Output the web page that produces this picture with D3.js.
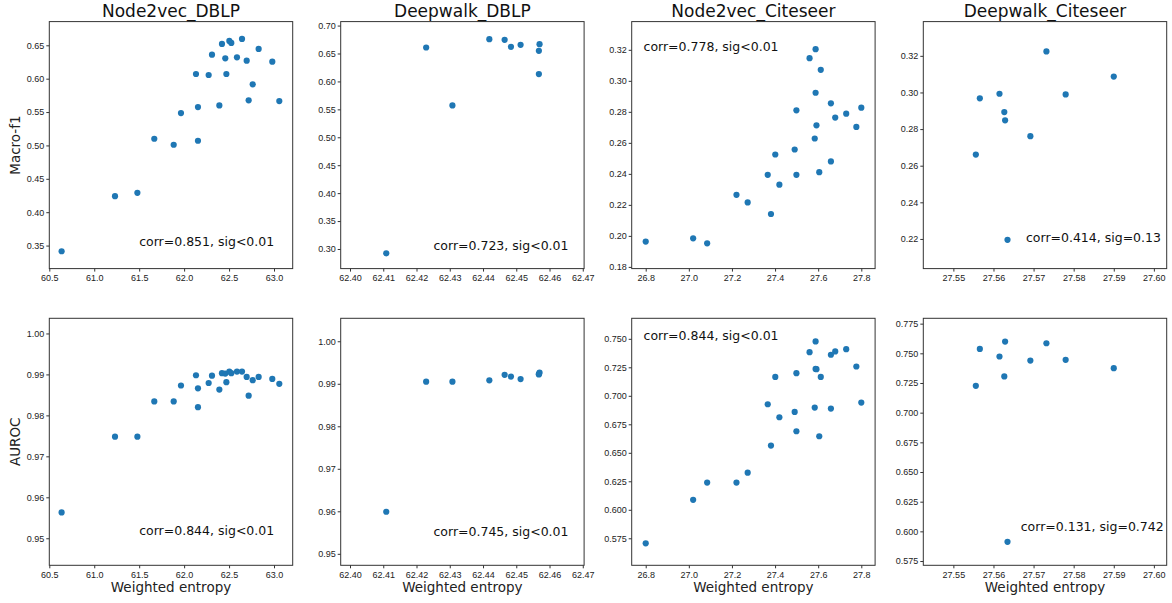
<!DOCTYPE html>
<html>
<head>
<meta charset="utf-8">
<script src="https://cdn.jsdelivr.net/npm/d3@7"></script>
<style>
  body { margin: 0; background: #fff; }
  svg { display: block; font-family: "DejaVu Sans", sans-serif; }
  .tick text { font-size: 9px; fill: #222; }
  .tick line { stroke: #333; }
  .title { font-size: 17px; fill: #111; }
  .axis-label { font-size: 13.5px; fill: #222; }
  .note { font-size: 12.5px; fill: #111; }
</style>
</head>
<body>
<svg id="chart" width="1172" height="603"></svg>
<script>
/* ── data ────────────────────────────────────────────────────────────────── */

const n2vDblpEntropy = [60.637, 61.231, 61.48, 61.668, 61.884, 61.965, 62.132, 62.154, 62.154,
  62.273, 62.31, 62.392, 62.421, 62.458, 62.47, 62.503, 62.525, 62.588, 62.644, 62.696, 62.718,
  62.763, 62.829, 62.981, 63.059];
const n2vDblpMacroF1 = [0.3415, 0.424, 0.429, 0.51, 0.501, 0.5485, 0.607, 0.5575, 0.507, 0.6055,
  0.636, 0.56, 0.652, 0.6305, 0.607, 0.6565, 0.6535, 0.632, 0.6595, 0.627, 0.5675, 0.5915, 0.6445,
  0.6255, 0.5665];
const n2vDblpAuroc = [0.9563, 0.9748, 0.9748, 0.9834, 0.9834, 0.9873, 0.9898, 0.9866, 0.982,
  0.9879, 0.9897, 0.9863, 0.9903, 0.9902, 0.9881, 0.9907, 0.9903, 0.9907, 0.9907, 0.9894, 0.9848,
  0.9886, 0.9894, 0.9889, 0.9877];

const dwDblpEntropy = [62.4109, 62.4229, 62.4308, 62.4419, 62.4465, 62.4484, 62.4513, 62.4568,
  62.457, 62.4568];
const dwDblpMacroF1 = [0.2923, 0.6607, 0.5571, 0.6756, 0.6744, 0.6619, 0.6655, 0.6548, 0.6667, 0.6131];
const dwDblpAuroc = [0.9599, 0.9905, 0.9905, 0.9908, 0.9921, 0.9917, 0.9911, 0.9923, 0.9926, 0.9922];

const n2vCiteEntropy = [26.8, 27.02, 27.085, 27.221, 27.273, 27.366, 27.381, 27.401, 27.42, 27.491,
  27.499, 27.499, 27.56, 27.584, 27.588, 27.588, 27.592, 27.605, 27.612, 27.659, 27.659, 27.679,
  27.73, 27.777, 27.8];
const n2vCiteMacroF1 = [0.1963, 0.1984, 0.1952, 0.2265, 0.2216, 0.2394, 0.2141, 0.2525, 0.233,
  0.2557, 0.2394, 0.281, 0.3146, 0.2628, 0.3204, 0.2923, 0.2713, 0.2411, 0.3071, 0.2855, 0.248,
  0.2763, 0.2788, 0.2703, 0.2827];
const n2vCiteAuroc = [0.5706, 0.6087, 0.6239, 0.6239, 0.6326, 0.6926, 0.6563, 0.7166, 0.6812,
  0.6859, 0.7199, 0.6689, 0.7383, 0.6897, 0.7477, 0.7236, 0.7234, 0.6645, 0.7166, 0.6888, 0.736,
  0.7389, 0.7409, 0.7257, 0.6941];

const dwCiteEntropy = [27.5556, 27.5566, 27.5615, 27.5627, 27.5629, 27.5635, 27.5692, 27.5732,
  27.578, 27.59];
const dwCiteMacroF1 = [0.2661, 0.2968, 0.2993, 0.2893, 0.2848, 0.2195, 0.2761, 0.3224, 0.2989, 0.3087];
const dwCiteAuroc = [0.7226, 0.7537, 0.7473, 0.7305, 0.7599, 0.5912, 0.7439, 0.7585, 0.7445, 0.7375];

const titles = ["Node2vec_DBLP", "Deepwalk_DBLP", "Node2vec_Citeseer", "Deepwalk_Citeseer"];
const rowLabels = ["Macro-f1", "AUROC"];
const xLabel = "Weighted entropy";

const notes = [
  ["corr=0.851, sig<0.01", "corr=0.723, sig<0.01", "corr=0.778, sig<0.01", "corr=0.414, sig=0.13"],
  ["corr=0.844, sig<0.01", "corr=0.745, sig<0.01", "corr=0.844, sig<0.01", "corr=0.131, sig=0.742"],
];

// tick values
const xTicks = [
  [60.5, 61.0, 61.5, 62.0, 62.5, 63.0],
  [62.40, 62.41, 62.42, 62.43, 62.44, 62.45, 62.46, 62.47],
  [26.8, 27.0, 27.2, 27.4, 27.6, 27.8],
  [27.55, 27.56, 27.57, 27.58, 27.59, 27.60],
];
const yTicks = [
  [
    [0.35, 0.40, 0.45, 0.50, 0.55, 0.60, 0.65],
    [0.30, 0.35, 0.40, 0.45, 0.50, 0.55, 0.60, 0.65, 0.70],
    [0.18, 0.20, 0.22, 0.24, 0.26, 0.28, 0.30, 0.32],
    [0.22, 0.24, 0.26, 0.28, 0.30, 0.32],
  ],
  [
    [0.95, 0.96, 0.97, 0.98, 0.99, 1.00],
    [0.95, 0.96, 0.97, 0.98, 0.99, 1.00],
    [0.575, 0.600, 0.625, 0.650, 0.675, 0.700, 0.725, 0.750],
    [0.575, 0.600, 0.625, 0.650, 0.675, 0.700, 0.725, 0.750, 0.775],
  ],
];

/* ── panels ──────────────────────────────────────────────────────────────── */

const panels = [
  { row: 0, col: 0, x: n2vDblpEntropy, y: n2vDblpMacroF1, xd: [60.5, 63.208], yd: [0.3155, 0.6855],
    xf: ".1f", yf: ".2f", noteAt: [61.5, 0.35] },
  { row: 0, col: 1, x: dwDblpEntropy, y: dwDblpMacroF1, xd: [62.3972, 62.4704], yd: [0.2649, 0.7071],
    xf: ".2f", yf: ".2f", noteAt: [62.4251, 0.2988] },
  { row: 0, col: 2, x: n2vCiteEntropy, y: n2vCiteMacroF1, xd: [26.735, 27.864], yd: [0.1789, 0.3382],
    xf: ".1f", yf: ".2f", noteAt: [26.79, 0.3194] },
  { row: 0, col: 3, x: dwCiteEntropy, y: dwCiteMacroF1, xd: [27.5425, 27.6032], yd: [0.2038, 0.3387],
    xf: ".2f", yf: ".2f", noteAt: [27.5681, 0.2182] },
  { row: 1, col: 0, x: n2vDblpEntropy, y: n2vDblpAuroc, xd: [60.5, 63.208], yd: [0.9434, 1.0037],
    xf: ".1f", yf: ".2f", noteAt: [61.5, 0.9508] },
  { row: 1, col: 1, x: dwDblpEntropy, y: dwDblpAuroc, xd: [62.3972, 62.4704], yd: [0.9473, 1.0054],
    xf: ".2f", yf: ".2f", noteAt: [62.4251, 0.9541] },
  { row: 1, col: 2, x: n2vCiteEntropy, y: n2vCiteAuroc, xd: [26.735, 27.864], yd: [0.5513, 0.768],
    xf: ".1f", yf: ".3f", noteAt: [26.79, 0.749] },
  { row: 1, col: 3, x: dwCiteEntropy, y: dwCiteAuroc, xd: [27.5425, 27.6032], yd: [0.5714, 0.7795],
    xf: ".2f", yf: ".3f", noteAt: [27.5668, 0.6002] },
];

const colLeft = [49.3, 340.7, 631.7, 923.3];
const rowTop = [21.6, 318.3];
const W = 243.4;
const H = 247;

const svg = d3.select("#chart");

panels.forEach((p) => {
  const g = svg
    .append("g")
    .attr("transform", `translate(${colLeft[p.col]},${rowTop[p.row]})`);

  const xS = d3.scaleLinear().domain(p.xd).range([0, W]);
  const yS = d3.scaleLinear().domain(p.yd).range([H, 0]);

  // axes (spines drawn separately as a rect)
  g.append("g")
    .attr("transform", `translate(0,${H})`)
    .call(
      d3.axisBottom(xS)
        .tickValues(xTicks[p.col])
        .tickFormat(d3.format(p.xf))
        .tickSize(3)
        .tickPadding(3),
    )
    .call((a) => a.select(".domain").remove());

  g.append("g")
    .call(
      d3.axisLeft(yS)
        .tickValues(yTicks[p.row][p.col])
        .tickFormat(d3.format(p.yf))
        .tickSize(3)
        .tickPadding(2),
    )
    .call((a) => a.select(".domain").remove());

  g.selectAll(".tick text").attr("font-family", null).attr("font-size", null);

  // points
  g.selectAll("circle.dot")
    .data(p.x.map((v, i) => ({ x: v, y: p.y[i] })))
    .enter()
    .append("circle")
    .attr("class", "dot")
    .attr("cx", (d) => xS(d.x))
    .attr("cy", (d) => yS(d.y))
    .attr("r", 3.1)
    .attr("fill", "#1f77b4");

  // frame
  g.append("rect")
    .attr("width", W)
    .attr("height", H)
    .attr("fill", "none")
    .attr("stroke", "#333")
    .attr("stroke-width", 1);

  // correlation note, anchored in data coords
  g.append("text")
    .attr("class", "note")
    .attr("x", xS(p.noteAt[0]))
    .attr("y", yS(p.noteAt[1]))
    .text(notes[p.row][p.col]);

  if (p.row === 0) {
    g.append("text")
      .attr("class", "title")
      .attr("x", W / 2)
      .attr("y", -4.8)
      .attr("text-anchor", "middle")
      .text(titles[p.col]);
  } else {
    g.append("text")
      .attr("class", "axis-label")
      .attr("x", W / 2)
      .attr("y", H + 27)
      .attr("text-anchor", "middle")
      .text(xLabel);
  }

  if (p.col === 0) {
    g.append("text")
      .attr("class", "axis-label")
      .attr("transform", `translate(${-29.5},${H / 2}) rotate(-90)`)
      .attr("text-anchor", "middle")
      .text(rowLabels[p.row]);
  }
});
</script>
</body>
</html>
